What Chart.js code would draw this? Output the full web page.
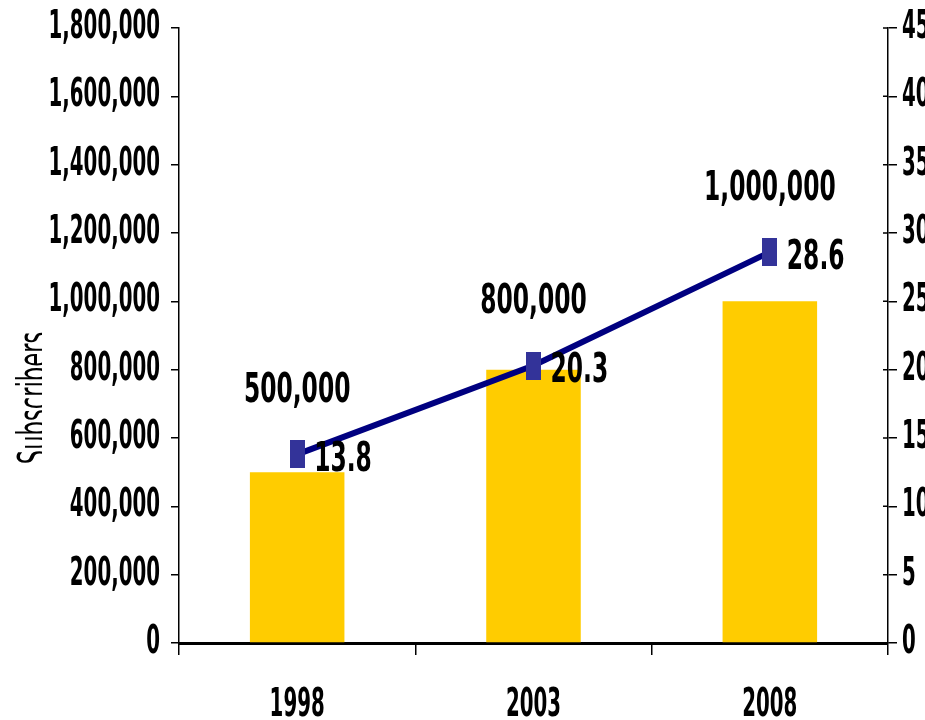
<!DOCTYPE html>
<html>
<head>
<meta charset="utf-8">
<script src="https://cdn.jsdelivr.net/npm/chart.js@4"></script>
<style>
  html, body { margin: 0; padding: 0; background: #fff; }
  #wrap { width: 925px; height: 720px; }
</style>
</head>
<body>
<div id="wrap"><canvas id="chart" width="925" height="720"></canvas></div>
<script>
// chart data
const years = ['1998', '2003', '2008'];
const subscribers = [500000, 800000, 1000000];
const density = [13.8, 20.3, 28.6];
const leftMax = 1800000, leftStep = 200000;
const rightMax = 45, rightStep = 5;

const FONT = "'DejaVu Sans Condensed', 'DejaVu Sans', sans-serif";
const fmt = v => Number(v).toLocaleString('en-US');

// the original text is tall and narrow, so stretch every glyph vertically
let stretchY = 1.75;
const tallText = {
    id: 'tallText',
    beforeDraw(chart) {
        const ctx = chart.ctx;
        const orig = CanvasRenderingContext2D.prototype.fillText;
        ctx.fillText = function(t, x, y, mw) {
            this.save();
            this.translate(x, y);
            this.scale(1, stretchY);
            if (mw !== undefined) orig.call(this, t, 0, 0, mw);
            else orig.call(this, t, 0, 0);
            this.restore();
        };
    },
    afterDraw(chart) {
        delete chart.ctx.fillText;
        stretchY = 1.75;
    }
};

// right axis ticks cross the axis line
const crossTicks = {
    id: 'crossTicks',
    afterDraw(chart) {
        const s = chart.scales.y1;
        const ctx = chart.ctx;
        ctx.save();
        ctx.strokeStyle = '#000';
        ctx.lineWidth = 1.5;
        ctx.beginPath();
        s.ticks.forEach(t => {
            const y = s.getPixelForValue(t.value);
            ctx.moveTo(s.left - 5, y);
            ctx.lineTo(s.left, y);
        });
        ctx.stroke();
        ctx.restore();
    }
};

// tall rectangular marker for the line
const marker = document.createElement('canvas');
marker.width = 15;
marker.height = 28;
const mctx = marker.getContext('2d');
mctx.fillStyle = '#333399';
mctx.fillRect(0, 0, 15, 28);

// value labels over the points
const valueLabels = {
    id: 'valueLabels',
    afterDatasetsDraw(chart) {
        const ctx = chart.ctx;
        const pts = chart.getDatasetMeta(1).data;
        ctx.save();
        stretchY = 1.55;
        ctx.fillStyle = '#000';
        ctx.font = 'bold 26px ' + FONT;
        ctx.textBaseline = 'middle';
        pts.forEach((p, i) => {
            ctx.textAlign = 'center';
            ctx.fillText(fmt(subscribers[i]), p.x, p.y - 63);
            ctx.textAlign = 'left';
            ctx.fillText(density[i].toFixed(1), p.x + 17, p.y + 6);
        });
        stretchY = 1.75;
        ctx.restore();
    }
};

// left title, partly hidden behind the tick labels
const sideTitle = {
    id: 'sideTitle',
    afterDraw(chart) {
        const ctx = chart.ctx;
        ctx.save();
        ctx.beginPath();
        ctx.rect(0, 0, 42, chart.height);
        ctx.clip();
        ctx.translate(48, 398);
        ctx.rotate(-Math.PI / 2);
        ctx.scale(0.6, 1);
        ctx.fillStyle = '#000';
        ctx.font = '42px ' + FONT;
        ctx.textAlign = 'center';
        ctx.textBaseline = 'alphabetic';
        ctx.fillText('Subscribers', 0, 0);
        ctx.restore();
    }
};

new Chart(document.getElementById('chart'), {
    data: {
        labels: years,
        datasets: [{
            type: 'bar',
            data: subscribers,
            yAxisID: 'y',
            backgroundColor: '#FFCC00',
            barPercentage: 0.4,
            categoryPercentage: 1,
            order: 1
        }, {
            type: 'line',
            data: density,
            yAxisID: 'y1',
            borderColor: '#000080',
            borderWidth: 6,
            pointStyle: marker,
            pointRadius: 14,
            pointHoverRadius: 14,
            order: 0
        }]
    },
    options: {
        responsive: false,
        animation: false,
        layout: { padding: { top: 28, left: 0, right: 0, bottom: 0 } },
        plugins: {
            legend: { display: false },
            tooltip: { enabled: false }
        },
        scales: {
            x: {
                offset: true,
                grid: { drawOnChartArea: false, offset: true, tickLength: 12, color: '#000', lineWidth: 1.5 },
                border: { color: '#000', width: 3 },
                ticks: { color: '#000', font: { family: FONT, size: 22, weight: 'bold' }, padding: 38 },
                afterFit(s) { s.height = 77; }
            },
            y: {
                position: 'left',
                min: 0,
                max: leftMax,
                grid: { drawOnChartArea: false, tickLength: 8, color: '#000', lineWidth: 1.5 },
                border: { color: '#000', width: 1.5 },
                ticks: {
                    stepSize: leftStep,
                    color: '#000',
                    padding: 11,
                    font: { family: FONT, size: 22, weight: 'bold' },
                    callback: v => fmt(v)
                },
                afterFit(s) { s.width = 179; }
            },
            y1: {
                position: 'right',
                min: 0,
                max: rightMax,
                grid: { drawOnChartArea: false, tickLength: 9, color: '#000', lineWidth: 1.5 },
                border: { color: '#000', width: 1.5 },
                ticks: {
                    stepSize: rightStep,
                    color: '#000',
                    padding: 5,
                    font: { family: FONT, size: 22, weight: 'bold' }
                },
                afterFit(s) { s.width = 37; }
            }
        }
    },
    plugins: [tallText, crossTicks, valueLabels, sideTitle]
});
</script>
</body>
</html>
